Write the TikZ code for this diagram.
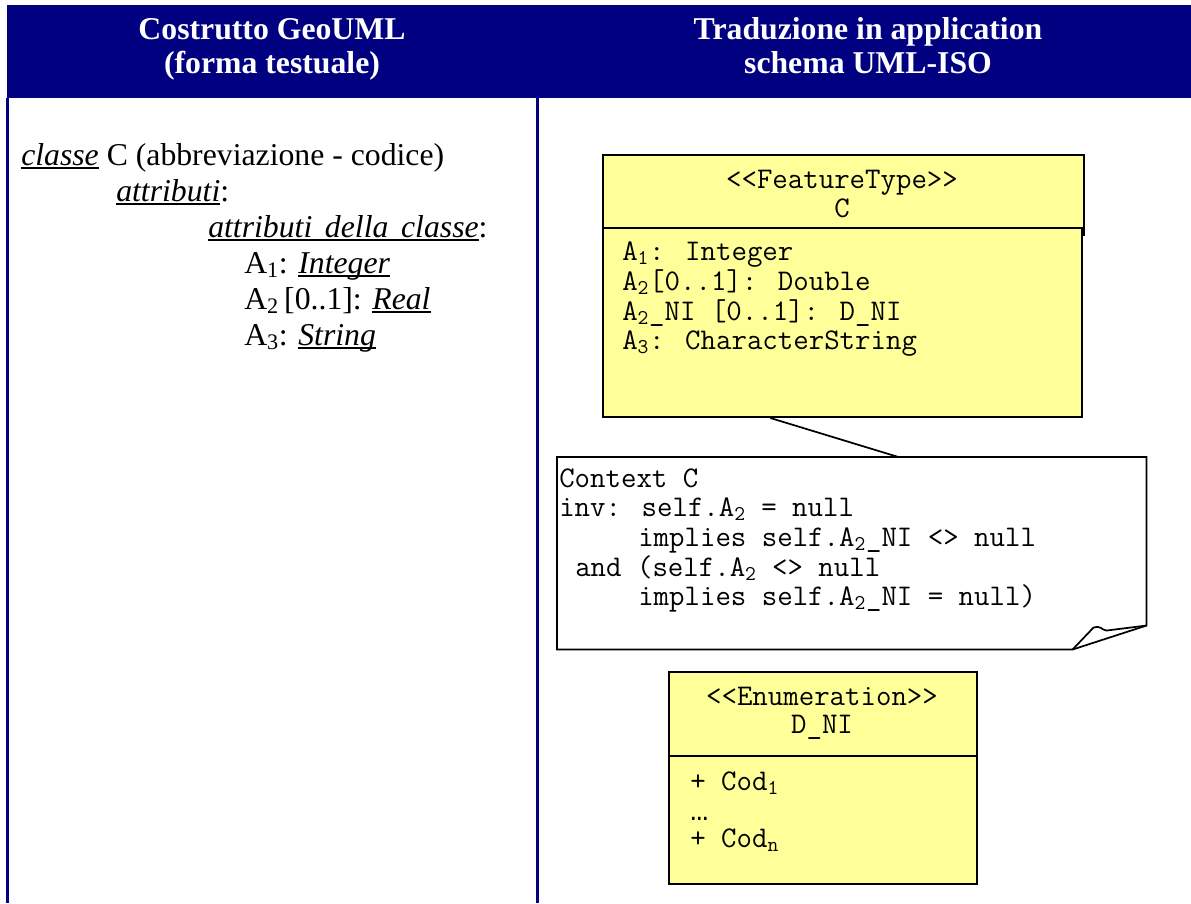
\documentclass[tikz,border=0pt]{standalone}
\usepackage{fontspec}
\setmainfont{Liberation Serif}
\newfontfamily\libmono{Liberation Mono}
\usetikzlibrary{calc}
\definecolor{navy}{RGB}{0,0,128}
\definecolor{umlyellow}{RGB}{255,255,153}
\newcommand\ulx[1]{\setbox0\hbox{#1}\rlap{\rule[-3pt]{\wd0}{1.4pt}}\box0\relax}
\newcommand\widesp{\spaceskip=0.4em plus 0pt minus 0pt\relax}
\begin{document}
\begin{tikzpicture}[x=0.75pt,y=-0.75pt,
  hdr/.style={font=\fontsize{23.8}{26}\selectfont\bfseries, text=white, inner sep=0pt, anchor=base},
  lt/.style={font=\fontsize{23.8}{27}\selectfont, inner sep=0pt, anchor=base west},
  mono/.style={font=\fontsize{22.5}{24}\selectfont\ttfamily, inner sep=0pt, anchor=base west, text height=14pt, text depth=3pt},
  monoc/.style={mono, anchor=base},
  umlbox/.style={draw=black, line width=1.5pt, fill=umlyellow, inner sep=0pt, anchor=north west},
  navyrule/.style={draw=navy, line width=1.6pt},
  conn/.style={draw=black, line width=1.3pt}]
\useasboundingbox (0,0) rectangle (1191,903);
% header band
\node[fill=navy, inner sep=0pt, minimum width=888pt, minimum height=69.75pt, anchor=north west] (band) at (7,5) {};
\coordinate (lefttop) at (7.5,98);
\coordinate (leftbot) at (7.5,903);
\coordinate (midtop) at (537.5,98);
\coordinate (midbot) at (537.5,903);
\draw[navyrule] (lefttop) -- (leftbot);
\draw[navyrule] (midtop) -- (midbot);
\node[hdr] (h1a) at (272,39) {Costrutto GeoUML};
\node[hdr] (h1b) at (272,73) {(forma testuale)};
\node[hdr] (h2a) at (868,39) {Traduzione in application};
\node[hdr] (h2b) at (868,73) {schema UML-ISO};
% left column text
\node[lt] (l1) at (21,165) {\ulx{\textit{classe}} C (abbreviazione - codice)};
\node[lt] (l2) at (116,201) {\ulx{\textit{attributi}}:};
\node[lt] (l3) at (208,237) {\widesp\ulx{\textit{attributi della classe}}:};
\node[lt] (l4) at (244,273) {A\textsubscript{1}: \ulx{\textit{Integer}}};
\node[lt] (l5) at (244,309) {A\textsubscript{2}\,[0..1]: \ulx{\textit{Real}}};
\node[lt] (l6) at (244,345) {A\textsubscript{3}: \ulx{\textit{String}}};
% FeatureType class
\node[umlbox, minimum width=360.75pt, minimum height=60pt] (fthead) at (602,154) {};
\node[umlbox, minimum width=359.25pt, minimum height=141.75pt] (ftbody) at (602,227) {};
\node[monoc] (ftst) at (842,188) {<<FeatureType>>};
\node[monoc] (ftname) at (842,217) {C};
\node[mono] (fa1) at (622,260) {A\textsubscript{1}: Integer};
\node[mono] (fa2) at (622,290) {A\textsubscript{2}[0..1]: Double};
\node[mono] (fa3) at (622,320) {A\textsubscript{2}\_NI [0..1]: D\_NI};
\node[mono] (fa4) at (622,349) {A\textsubscript{3}: CharacterString};
% note
\node[inner sep=0pt, minimum width=441.75pt, minimum height=144pt, anchor=north west] (note) at (557,457) {};
\draw[conn] ($(ftbody.south west)!0.35!(ftbody.south east)$) -- ($(note.north west)!0.579!(note.north east)$);
\draw[conn, fill=white] (note.north west) -- (note.north east) -- ($(note.south east)+(0,-24)$) -- ($(note.south east)+(-74,0)$) -- (note.south west) -- cycle;
\draw[conn, line join=round] ($(note.south east)+(-74,0)$) -- ($(note.south east)+(-53,-22)$) .. controls +(8,-2) and +(-6,-1) .. ($(note.south east)+(-40,-19)$) -- ($(note.south east)+(0,-24)$);
\node[mono] (n1) at (559,487) {Context C};
\node[mono] (n2) at (559,516.7) {inv: self.A\textsubscript{2} = null};
\node[mono] (n3) at (638,546.4) {implies self.A\textsubscript{2}\_NI <> null};
\node[mono] (n4) at (575,576) {and (self.A\textsubscript{2} <> null};
\node[mono] (n5) at (638,605.8) {implies self.A\textsubscript{2}\_NI = null)};
% enumeration
\node[umlbox, minimum width=231pt, minimum height=159pt] (enum) at (668,671) {};
\draw[black, line width=1.5pt] ($(enum.north west)+(0,85)$) -- ($(enum.north east)+(0,85)$);
\node[monoc] (est) at (822,705) {<<Enumeration>>};
\node[monoc] (ename) at (822,733) {D\_NI};
\node[mono] (e1) at (690,790) {+ Cod\textsubscript{1}};
\node[mono] (e2) at (690,820) {{\libmono …}};
\node[mono] (e3) at (690,847) {+ Cod\textsubscript{n}};
\end{tikzpicture}
\end{document}
